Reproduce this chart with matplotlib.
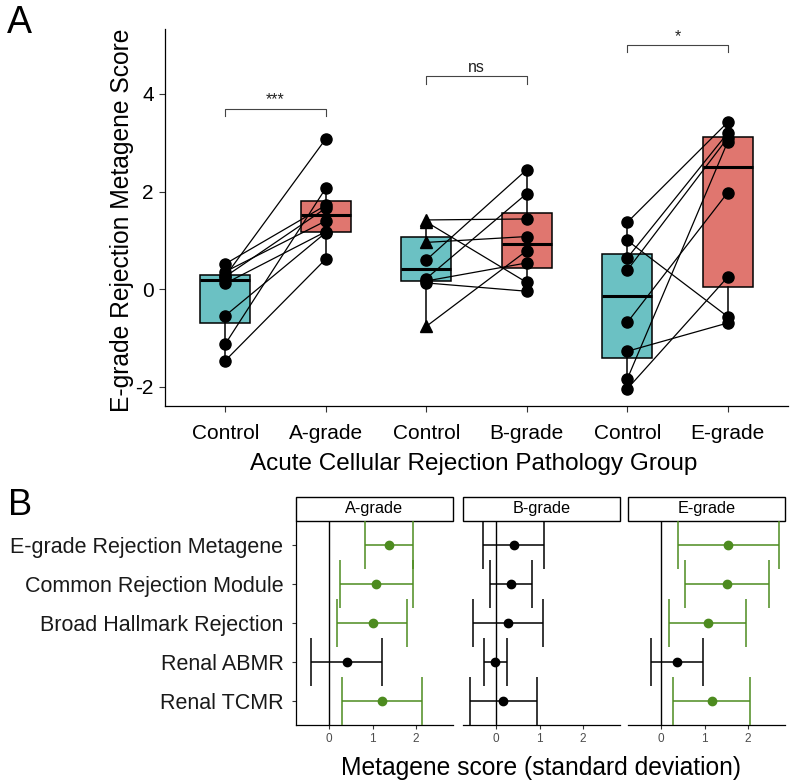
import matplotlib
matplotlib.use('Agg')
import matplotlib.pyplot as plt
from matplotlib.patches import Rectangle

plt.rcParams['font.family'] = ['Liberation Sans', 'DejaVu Sans']

# Panel A: paired E-grade metagene scores (control vs rejection biopsy)
a_ctrl = [-1.46, -1.12, -0.54, 0.12, 0.26, 0.27, 0.36, 0.52]
a_rej = [0.62, 2.07, 1.16, 1.18, 1.66, 3.08, 1.40, 1.72]
b_ctrl = [1.42, 1.38, 0.96, 0.60, 0.22, 0.17, 0.13, -0.76]
b_rej = [1.44, 0.14, 1.08, 2.45, 1.96, 0.54, -0.04, 0.79]
b_ctrl_marker = ['^', '^', '^', 'o', 'o', 'o', 'o', '^']
e_ctrl = [1.37, 1.00, 0.64, 0.39, -0.68, -1.27, -1.84, -2.04]
e_rej = [3.42, -0.56, 3.20, 3.10, 1.98, -0.69, 3.02, 0.25]

x_labels = ['Control', 'A-grade', 'Control', 'B-grade', 'Control', 'E-grade']
sig_labels = ['***', 'ns', '*']
sig_heights = [3.69, 4.36, 5.0]

# Panel B: metagene score estimates with confidence intervals
metagenes = ['E-grade Rejection Metagene', 'Common Rejection Module',
             'Broad Hallmark Rejection', 'Renal ABMR', 'Renal TCMR']
grades = ['A-grade', 'B-grade', 'E-grade']
est_a = [1.38, 1.09, 1.00, 0.41, 1.21]
lo_a = [0.83, 0.25, 0.19, -0.41, 0.30]
hi_a = [1.94, 1.92, 1.79, 1.21, 2.14]
est_b = [0.41, 0.34, 0.27, -0.02, 0.17]
lo_b = [-0.31, -0.13, -0.54, -0.27, -0.60]
hi_b = [1.11, 0.83, 1.09, 0.25, 0.94]
est_e = [1.55, 1.51, 1.07, 0.37, 1.17]
lo_e = [0.40, 0.55, 0.19, -0.23, 0.28]
hi_e = [2.71, 2.49, 1.95, 0.96, 2.05]

teal = '#6BC1C3'
salmon = '#E0766F'
green = '#4D8B1F'

W, H = 791, 784
fig = plt.figure(figsize=(W / 100, H / 100), dpi=100)

# ---------- panel A ----------
axA = fig.add_axes([165 / W, 1 - 406 / H, (788 - 165) / W, (406 - 29) / H])
groups = [(a_ctrl, a_rej, ['o'] * 8), (b_ctrl, b_rej, b_ctrl_marker), (e_ctrl, e_rej, ['o'] * 8)]

box_data = []
for c, r, m in groups:
    box_data += [c, r]
positions = list(range(1, 7))
bp = axA.boxplot(box_data, positions=positions, widths=0.5, patch_artist=True,
                 showfliers=False, showcaps=False, whis=1.5,
                 medianprops=dict(color='black', lw=2.2),
                 boxprops=dict(edgecolor='black', lw=1.1),
                 whiskerprops=dict(color='black', lw=1.1))
for i, patch in enumerate(bp['boxes']):
    patch.set_facecolor(teal if i % 2 == 0 else salmon)
    patch.set_zorder(1)

for g, (c, r, m) in enumerate(groups):
    p = 2 * g + 1
    for cv, rv, mk in zip(c, r, m):
        axA.plot([p, p + 1], [cv, rv], color='black', lw=0.9, zorder=3)
        axA.plot(p, cv, marker=mk, color='black', ms=8, zorder=4)
        axA.plot(p + 1, rv, marker='o', color='black', ms=8, zorder=4)
    h = sig_heights[g]
    axA.plot([p, p, p + 1, p + 1], [h - 0.15, h, h, h - 0.15], color='#444444', lw=0.8)
    axA.text(p + 0.5, h + 0.03, sig_labels[g], ha='center', va='bottom', fontsize=11.5,
             color='#222222')

axA.set_xlim(0.4, 6.6)
axA.set_ylim(-2.39, 5.33)
axA.set_xticks(positions)
axA.set_xticklabels(x_labels)
axA.set_yticks([-2, 0, 2, 4])
axA.set_yticklabels(['-2', '0', '2', '4'])
axA.tick_params(axis='both', labelsize=15, length=4, width=0.8, colors='#333333',
                labelcolor='black')
axA.tick_params(axis='x', pad=9)
axA.tick_params(axis='y', pad=4)
for s in ['top', 'right']:
    axA.spines[s].set_visible(False)
for s in ['left', 'bottom']:
    axA.spines[s].set_linewidth(0.9)

fig.text(474 / W, 1 - 470 / H, 'Acute Cellular Rejection Pathology Group',
         ha='center', va='baseline', fontsize=17.5)
fig.text(122 / W, 1 - 220 / H, 'E-grade Rejection Metagene Score',
         ha='center', va='center', rotation=90, fontsize=17.7)
fig.text(7 / W, 1 - 33 / H, 'A', fontsize=27, va='baseline')

# ---------- panel B ----------
est = [est_a, est_b, est_e]
lo = [lo_a, lo_b, lo_e]
hi = [hi_a, hi_b, hi_e]
rows = [5, 4, 3, 2, 1]
lefts = [296, 463, 628]
for k, grade in enumerate(grades):
    ax = fig.add_axes([lefts[k] / W, 1 - 725 / H, 157 / W, 204 / H])
    ax.axvline(0, color='black', lw=1.0, zorder=1)
    for j in range(len(metagenes)):
        col = green if lo[k][j] > 0 else 'black'
        ax.errorbar(est[k][j], rows[j],
                    xerr=[[est[k][j] - lo[k][j]], [hi[k][j] - est[k][j]]],
                    fmt='o', color=col, ms=6, lw=1.1, capsize=17, capthick=1.1, zorder=3)
    ax.set_xlim(-0.76, 2.85)
    ax.set_ylim(0.4, 5.6)
    ax.set_xticks([0, 1, 2])
    ax.tick_params(axis='x', labelsize=8.5, length=3, width=0.8, colors='#333333',
                   labelcolor='#4D4D4D', pad=3)
    for s in ['top', 'right']:
        ax.spines[s].set_visible(False)
    ax.spines['bottom'].set_linewidth(0.9)
    if k == 0:
        ax.set_yticks(rows)
        ax.set_yticklabels(metagenes)
        ax.tick_params(axis='y', labelsize=15.5, length=3, width=0.8, colors='#333333',
                       labelcolor='#1a1a1a', pad=6)
        ax.spines['left'].set_linewidth(0.9)
    else:
        ax.set_yticks([])
        ax.spines['left'].set_visible(False)
    ax.add_patch(Rectangle((0, 1), 1, 24 / 204, transform=ax.transAxes, clip_on=False,
                           facecolor='white', edgecolor='black', lw=1.0))
    ax.text(0.5, 1 + 12 / 204, grade, transform=ax.transAxes, ha='center', va='center',
            fontsize=11.7)

fig.text(541 / W, 1 - 775 / H, 'Metagene score (standard deviation)',
         ha='center', va='baseline', fontsize=17.7)
fig.text(8 / W, 1 - 515 / H, 'B', fontsize=26, va='baseline')

fig.savefig('out.png', dpi=100)
